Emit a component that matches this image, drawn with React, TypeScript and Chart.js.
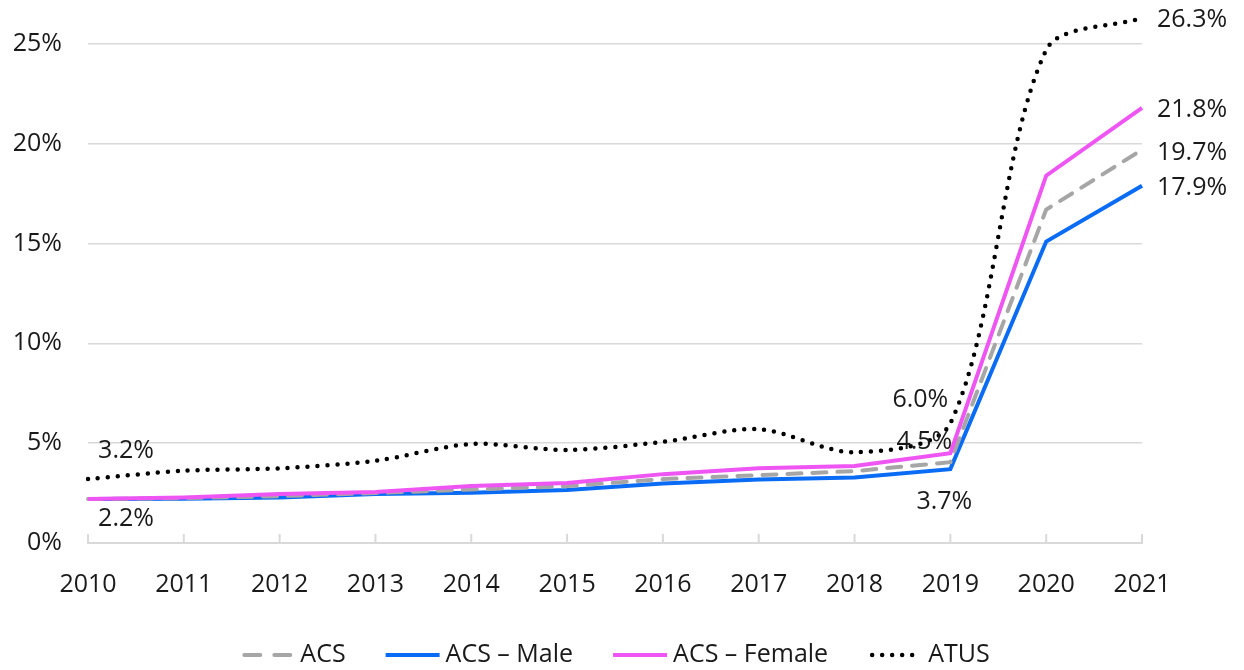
import React, { useEffect, useRef } from "react";
import { Chart, registerables } from "chart.js";

Chart.register(...registerables);

const years = ["2010", "2011", "2012", "2013", "2014", "2015", "2016", "2017", "2018", "2019", "2020", "2021"];
const acs = [2.2, 2.25, 2.35, 2.5, 2.68, 2.85, 3.2, 3.4, 3.6, 4.05, 16.7, 19.7];
const acsMale = [2.2, 2.22, 2.28, 2.45, 2.52, 2.65, 2.98, 3.18, 3.28, 3.7, 15.1, 17.9];
const acsFemale = [2.2, 2.28, 2.45, 2.55, 2.85, 3.0, 3.45, 3.74, 3.86, 4.5, 18.4, 21.8];
const atus = [3.2, 3.62, 3.74, 4.12, 4.96, 4.66, 5.07, 5.7, 4.55, 6.0, 24.7, 26.3];
const yTicks = [0, 5, 10, 15, 20, 25];

const FONT = "'Open Sans', sans-serif";

// dataset index, point index, offset of label relative to point
const labelSpecs = [
  { ds: 3, idx: 0, dx: 38, dy: -28, align: "center" },
  { ds: 1, idx: 0, dx: 38, dy: 20, align: "center" },
  { ds: 3, idx: 9, dx: -30, dy: -23, align: "center" },
  { ds: 2, idx: 9, dx: -26, dy: -11, align: "center" },
  { ds: 1, idx: 9, dx: -6, dy: 33, align: "center" },
  { ds: 3, idx: 11, dx: 15, dy: 2, align: "left" },
  { ds: 2, idx: 11, dx: 15, dy: 2, align: "left" },
  { ds: 0, idx: 11, dx: 15, dy: 3, align: "left" },
  { ds: 1, idx: 11, dx: 15, dy: 2, align: "left" },
];

const labelPlugin = {
  id: "pointLabels",
  afterDatasetsDraw(chart: any) {
    const ctx = chart.ctx;
    ctx.save();
    ctx.font = `25px ${FONT}`;
    ctx.fillStyle = "#1a1a1a";
    ctx.textBaseline = "middle";
    for (const s of labelSpecs) {
      const el = chart.getDatasetMeta(s.ds).data[s.idx];
      const v = chart.data.datasets[s.ds].data[s.idx] as number;
      ctx.textAlign = s.align;
      ctx.fillText(`${v.toFixed(1)}%`, el.x + s.dx, el.y + s.dy);
    }
    ctx.restore();
  },
};

const innerTicksPlugin = {
  id: "innerTicks",
  beforeDatasetsDraw(chart: any) {
    const ctx = chart.ctx;
    const xs = chart.scales.x;
    const bottom = chart.chartArea.bottom;
    ctx.save();
    ctx.strokeStyle = "#d9d9d9";
    ctx.lineWidth = 2;
    for (let i = 0; i < years.length; i++) {
      const x = xs.getPixelForValue(i);
      ctx.beginPath();
      ctx.moveTo(x, bottom);
      ctx.lineTo(x, bottom - 9);
      ctx.stroke();
    }
    ctx.restore();
  },
};

const legendPlugin = {
  id: "customLegend",
  afterDraw(chart: any) {
    const ctx = chart.ctx;
    const sampleW = 54;
    const gapText = 6;
    const gapItem = 40;
    const y = 655;
    ctx.save();
    ctx.font = `25px ${FONT}`;
    ctx.textBaseline = "middle";
    ctx.textAlign = "left";
    const dss = chart.data.datasets;
    const widths = dss.map((d: any) => sampleW + gapText + ctx.measureText(d.label).width);
    const total = widths.reduce((a: number, b: number) => a + b, 0) + gapItem * (dss.length - 1);
    const ca = chart.chartArea;
    let x = (ca.left + ca.right) / 2 - total / 2;
    dss.forEach((d: any, i: number) => {
      ctx.save();
      ctx.strokeStyle = d.borderColor;
      ctx.lineWidth = d.borderWidth;
      ctx.lineCap = d.borderCapStyle || "butt";
      ctx.setLineDash(d.legendDash || d.borderDash || []);
      ctx.beginPath();
      ctx.moveTo(x + (d.borderDash ? 4 : 0), y);
      ctx.lineTo(x + (d.legendDash ? 50 : sampleW), y);
      ctx.stroke();
      ctx.restore();
      ctx.fillStyle = "#1a1a1a";
      ctx.fillText(d.label, x + sampleW + gapText, y);
      x += widths[i] + gapItem;
    });
    ctx.restore();
  },
};

export default function App() {
  const ref = useRef<HTMLCanvasElement | null>(null);
  useEffect(() => {
    document.body.style.margin = "0";
    const chart = new Chart(ref.current as HTMLCanvasElement, {
      type: "line",
      data: {
        labels: years,
        datasets: [
          {
            label: "ACS",
            data: acs,
            borderColor: "#a6a6a6",
            backgroundColor: "#a6a6a6",
            borderWidth: 4,
            borderDash: [14, 11],
            legendDash: [16, 14],
            borderCapStyle: "round",
            tension: 0,
            pointRadius: 0,
            order: 2,
          },
          {
            label: "ACS \u2013 Male",
            data: acsMale,
            borderColor: "#0a6cf5",
            backgroundColor: "#0a6cf5",
            borderWidth: 4,
            tension: 0,
            pointRadius: 0,
            order: 3,
          },
          {
            label: "ACS \u2013 Female",
            data: acsFemale,
            borderColor: "#ee55f2",
            backgroundColor: "#ee55f2",
            borderWidth: 4,
            tension: 0,
            pointRadius: 0,
            order: 1,
          },
          {
            label: "ATUS",
            data: atus,
            borderColor: "#000000",
            backgroundColor: "#000000",
            borderWidth: 4.5,
            borderDash: [0, 10],
            borderCapStyle: "round",
            tension: 0.3,
            pointRadius: 0,
            order: 0,
          },
        ],
      },
      options: {
        animation: false,
        responsive: true,
        maintainAspectRatio: false,
        layout: { padding: { left: 0, right: 102, top: 10, bottom: 45 } },
        scales: {
          x: {
            type: "category",
            offset: false,
            grid: { display: false },
            border: { display: true, color: "#d9d9d9", width: 2 },
            ticks: {
              font: { family: FONT, size: 25 },
              color: "#1a1a1a",
              padding: 19,
              maxRotation: 0,
              autoSkip: false,
            },
            afterFit(scale: any) {
              scale.height = 82;
              scale.paddingLeft = 0;
              scale.paddingRight = 0;
            },
          },
          y: {
            min: 0,
            max: 26.7,
            afterBuildTicks(scale: any) {
              scale.ticks = yTicks.map((v) => ({ value: v }));
            },
            grid: { color: "#d9d9d9", lineWidth: 1.5, drawTicks: false },
            border: { display: false },
            ticks: {
              font: { family: FONT, size: 25 },
              color: "#1a1a1a",
              padding: 26,
              callback: (v: any) => `${v}%`,
            },
            afterFit(scale: any) {
              scale.width = 88;
              scale.paddingTop = 0;
              scale.paddingBottom = 0;
            },
          },
        },
        plugins: {
          tooltip: { enabled: false },
          legend: { display: false },
        },
      },
      plugins: [labelPlugin, innerTicksPlugin, legendPlugin],
    } as any);
    return () => chart.destroy();
  }, []);
  return (
    <div style={{ width: 1244, height: 670, position: "relative" }}>
      <canvas ref={ref} />
    </div>
  );
}
